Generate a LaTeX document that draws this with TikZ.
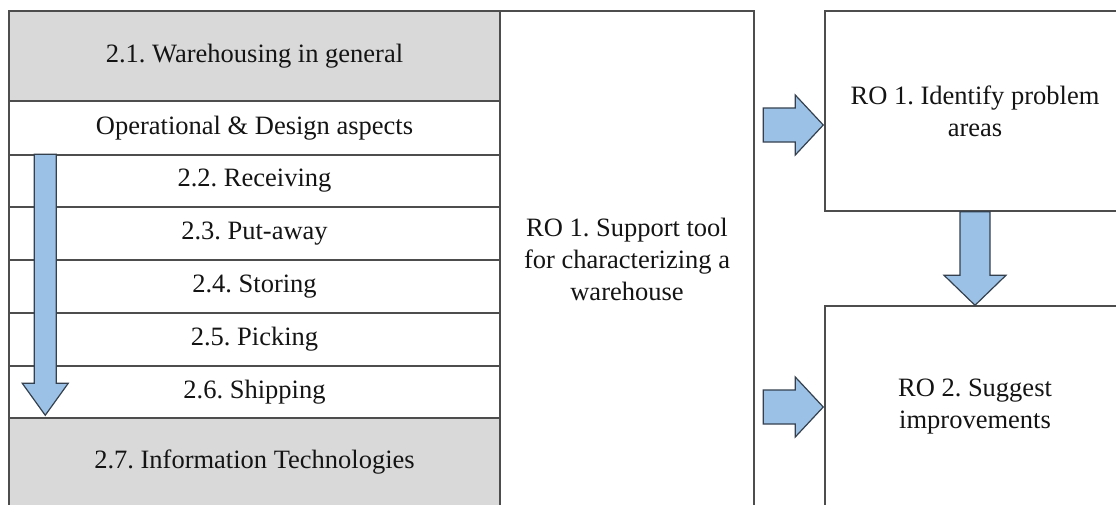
\documentclass[tikz,border=0pt]{standalone}
\usepackage{fontspec}
\setmainfont{Liberation Serif}
\usetikzlibrary{calc}
\definecolor{edge}{HTML}{4D4D4D}
\definecolor{band}{HTML}{D9D9D9}
\definecolor{flow}{HTML}{9BC2E6}
\definecolor{flowedge}{HTML}{34404E}
\definecolor{ink}{HTML}{141414}
\frenchspacing
\tikzset{
  cell/.style={draw=edge, line width=1.5pt, rectangle, inner sep=0pt,
    minimum width=491pt, text=ink, align=center,
    font=\fontsize{26.5}{32}\selectfont},
  shaded/.style={cell, fill=band},
  plain/.style={cell, fill=white},
  panel/.style={draw=edge, line width=1.5pt, rectangle, inner sep=0pt,
    fill=white, text=ink, align=center,
    font=\fontsize{26.5}{32}\selectfont},
  blockarrow/.style={fill=flow, draw=flowedge, line width=1.2pt, line join=miter},
}
\begin{document}
\begin{tikzpicture}[x=1pt, y=-1pt]
\useasboundingbox (0,0) rectangle (1116,504);
\clip (0,0) rectangle (1116,504);
\fill[white] (0,0) rectangle (1116,504);

% left column: literature sections
\node[shaded, minimum height=90pt] (sec21) at (254.5,56)    {2.1. Warehousing in general};
\node[plain,  minimum height=54pt] (ops)   at (254.5,128)   {Operational \& Design aspects};
\node[plain,  minimum height=52pt] (sec22) at (254.5,181)   {2.2. Receiving};
\node[plain,  minimum height=53pt] (sec23) at (254.5,233.5) {2.3. Put-away};
\node[plain,  minimum height=53pt] (sec24) at (254.5,286.5) {2.4. Storing};
\node[plain,  minimum height=53pt] (sec25) at (254.5,339.5) {2.5. Picking};
\node[plain,  minimum height=52pt] (sec26) at (254.5,392)   {2.6. Shipping};
\node[shaded, minimum height=89pt] (sec27) at (254.5,462.5) {2.7. Information Technologies};

% middle column: support tool
\node[panel, minimum width=254pt, minimum height=496pt] (tool) at (627,259)
  {RO 1. Support tool\\for characterizing a\\warehouse};

% right column: research objectives
\node[panel, minimum width=300pt, minimum height=200pt] (prob) at (975,111)
  {RO 1. Identify problem\\areas};
\node[panel, minimum width=300pt, minimum height=202pt] (impr) at (975,407)
  {RO 2. Suggest\\improvements};

% flow down the operational sections
\coordinate (ltip) at ($(sec27.north west)+(37,-2)$);
\draw[blockarrow] (ltip) -- ++(-23,-32) -- ++(12,0)
  -- ($(sec22.north west)+(26,0)$) -- ++(22,0)
  -- ($(ltip)+(11,-32)$) -- ++(12,0) -- cycle;

% tool feeds both objectives
\coordinate (t1) at ($(prob.west)+(-1,14)$);
\draw[blockarrow] (t1) -- ++(-28,-30) -- ++(0,13) -- ++(-32,0)
  -- ++(0,34) -- ++(32,0) -- ++(0,13) -- cycle;
\coordinate (t2) at ($(impr.west)+(-1,0)$);
\draw[blockarrow] (t2) -- ++(-28,-30) -- ++(0,13) -- ++(-32,0)
  -- ++(0,34) -- ++(32,0) -- ++(0,13) -- cycle;

% problem areas lead to improvements
\draw[blockarrow] (impr.north) -- ++(-31,-30) -- ++(16,0)
  -- ($(prob.south)+(-15,0)$) -- ++(30,0)
  -- ($(impr.north)+(15,-30)$) -- ++(16,0) -- cycle;
\end{tikzpicture}
\end{document}
